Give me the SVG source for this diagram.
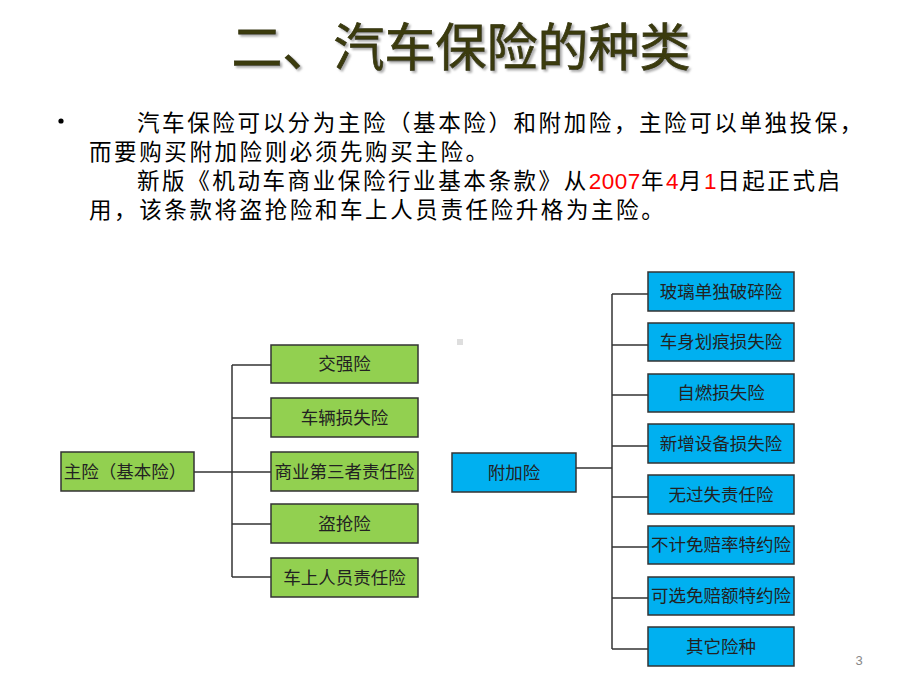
<svg xmlns="http://www.w3.org/2000/svg" width="920" height="690" viewBox="0 0 920 690">
<defs>
<filter id="sh" x="-10%" y="-20%" width="120%" height="150%">
<feDropShadow dx="2" dy="2" stdDeviation="0.8" flood-color="#999" flood-opacity="0.8"/>
</filter>
</defs>
<style>
.title{font-family:"Noto Sans CJK SC","Noto Sans CJK JP",sans-serif;font-size:51px;font-weight:400;text-anchor:middle;stroke:#3a3a10;stroke-width:0.8px}
.body{font-family:"Noto Sans CJK SC","Noto Sans CJK JP",sans-serif;font-size:22.5px;letter-spacing:2.6px;fill:#000}
.num{font-family:"Liberation Sans",Arial,sans-serif;fill:#ff0000;letter-spacing:0.5px}
.g{fill:#92D050;stroke:#333;stroke-width:1.5}
.b{fill:#00B0F0;stroke:#333;stroke-width:1.5}
.lbl{font-family:"Noto Sans CJK SC","Noto Sans CJK JP",sans-serif;font-size:17.5px;fill:#222;text-anchor:middle}
.conn line{stroke:#333;stroke-width:1.5}
</style>
<rect width="920" height="690" fill="#fff"/>
<text class="title" x="461" y="66" fill="#3a3a10" filter="url(#sh)">二、汽车保险的种类</text>
<circle cx="61" cy="121" r="2.6" fill="#000"/>
<text class="body" x="137" y="131">汽车保险可以分为主险（基本险）和附加险，主险可以单独投保，</text>
<text class="body" x="89" y="160">而要购买附加险则必须先购买主险。</text>
<text class="body" x="137" y="189">新版《机动车商业保险行业基本条款》从<tspan class="num">2007</tspan>年<tspan class="num">4</tspan>月<tspan class="num">1</tspan>日起正式启</text>
<text class="body" x="89" y="218">用，该条款将盗抢险和车上人员责任险升格为主险。</text>
<rect x="457" y="339" width="6" height="6" fill="#dedede"/>
<g class="conn">
<line x1="194" y1="472" x2="271" y2="472"/>
<line x1="232" y1="365" x2="232" y2="577"/>
<line x1="232" y1="365" x2="271" y2="365"/>
<line x1="232" y1="418" x2="271" y2="418"/>
<line x1="232" y1="524" x2="271" y2="524"/>
<line x1="232" y1="577" x2="271" y2="577"/>
<line x1="576" y1="468" x2="612" y2="468"/>
<line x1="612" y1="294" x2="612" y2="649"/>
<line x1="612" y1="294" x2="650" y2="294"/>
<line x1="612" y1="345" x2="648" y2="345"/>
<line x1="612" y1="395" x2="648" y2="395"/>
<line x1="612" y1="446" x2="650" y2="446"/>
<line x1="612" y1="497" x2="648" y2="497"/>
<line x1="612" y1="547" x2="650" y2="547"/>
<line x1="612" y1="598" x2="650" y2="598"/>
<line x1="612" y1="649" x2="650" y2="649"/>
</g>
<g id="main"><rect class="g" x="61" y="452" width="133" height="39"/><text class="lbl" x="125" y="478">主险（基本险）</text></g>
<g id="jqx"><rect class="g" x="271" y="345" width="147" height="38"/><text class="lbl" x="344.5" y="370">交强险</text></g>
<g id="clssx"><rect class="g" x="271" y="398" width="147" height="39"/><text class="lbl" x="344.5" y="423.5">车辆损失险</text></g>
<g id="syszx"><rect class="g" x="271" y="452" width="147" height="39"/><text class="lbl" x="344.5" y="478">商业第三者责任险</text></g>
<g id="dqx"><rect class="g" x="271" y="504" width="147" height="39"/><text class="lbl" x="344.5" y="530">盗抢险</text></g>
<g id="csry"><rect class="g" x="271" y="558" width="147" height="39"/><text class="lbl" x="344.5" y="584">车上人员责任险</text></g>
<g id="fjx"><rect class="b" x="452" y="453" width="124" height="39"/><text class="lbl" x="514" y="479">附加险</text></g>
<g id="b1"><rect class="b" x="648" y="272" width="146" height="39"/><text class="lbl" x="721" y="298">玻璃单独破碎险</text></g>
<g id="b2"><rect class="b" x="648" y="323" width="146" height="38"/><text class="lbl" x="721" y="348">车身划痕损失险</text></g>
<g id="b3"><rect class="b" x="648" y="374" width="146" height="38"/><text class="lbl" x="721" y="399">自燃损失险</text></g>
<g id="b4"><rect class="b" x="648" y="424" width="146" height="39"/><text class="lbl" x="721" y="450">新增设备损失险</text></g>
<g id="b5"><rect class="b" x="648" y="475" width="146" height="39"/><text class="lbl" x="721" y="501">无过失责任险</text></g>
<g id="b6"><rect class="b" x="648" y="526" width="146" height="38"/><text class="lbl" x="721" y="551">不计免赔率特约险</text></g>
<g id="b7"><rect class="b" x="648" y="577" width="146" height="38"/><text class="lbl" x="721" y="602">可选免赔额特约险</text></g>
<g id="b8"><rect class="b" x="648" y="627" width="146" height="39"/><text class="lbl" x="721" y="653">其它险种</text></g>
<text x="859" y="665" font-family="Liberation Sans,Arial,sans-serif" font-size="13" fill="#888" text-anchor="middle">3</text>
</svg>
